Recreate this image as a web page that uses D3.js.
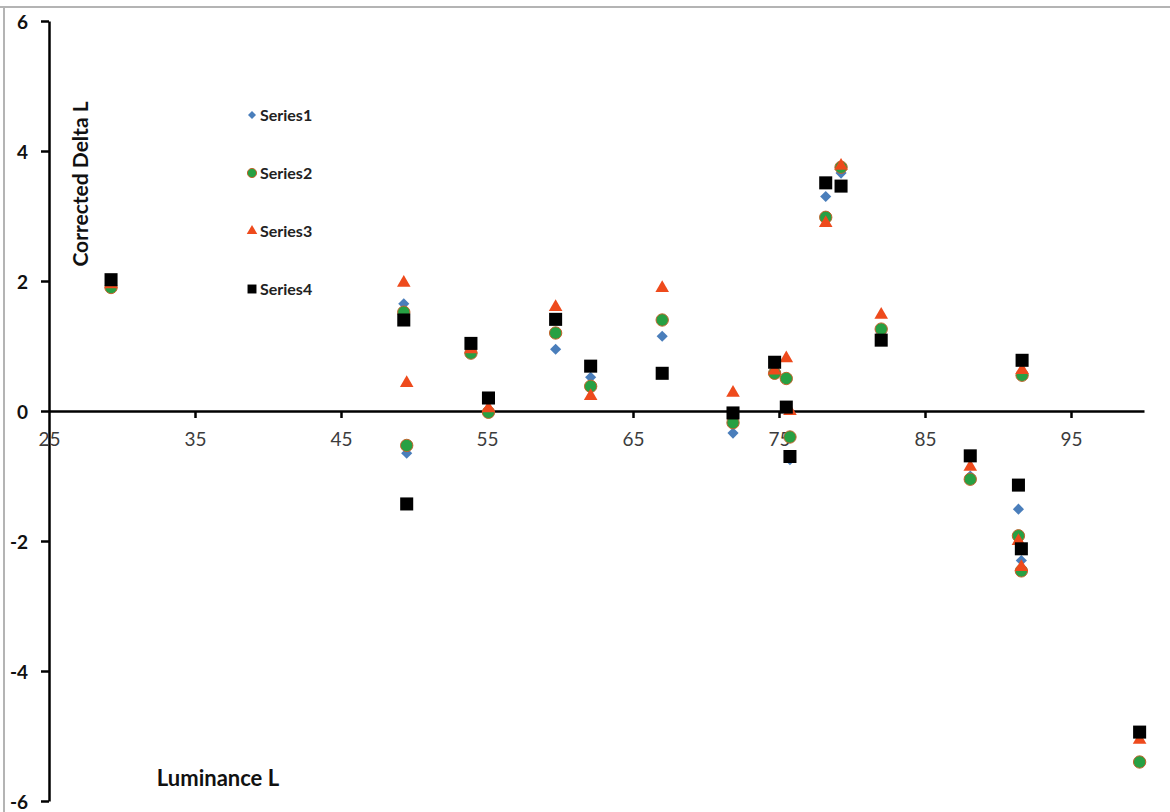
<!DOCTYPE html>
<html>
<head>
<meta charset="utf-8">
<script src="https://cdn.jsdelivr.net/npm/d3@7"></script>
<style>
  body { margin: 0; background: #fff; }
  svg { display: block; }
</style>
</head>
<body>
<div id="chart"></div>
<script>
// luminance positions, one row per sample
const luminance = [29.25, 49.3, 49.5, 53.9, 55.1, 59.7, 62.1, 67.0, 71.85, 74.7, 75.5, 75.75, 78.2, 79.25, 82.0, 88.1, 91.4, 91.6, 91.65, 99.7];
const series1 = [1.95, 1.65, -0.65, 0.92, 0.0, 0.95, 0.52, 1.15, -0.34, 0.72, 0.50, -0.75, 3.30, 3.66, 1.20, -1.00, -1.51, -2.30, 0.60, -5.00];
const series2 = [1.90, 1.52, -0.53, 0.89, -0.02, 1.20, 0.38, 1.40, -0.18, 0.58, 0.50, -0.40, 2.98, 3.75, 1.26, -1.05, -1.92, -2.46, 0.55, -5.40];
const series3 = [1.95, 1.97, 0.43, 0.95, 0.04, 1.60, 0.23, 1.89, 0.28, 0.62, 0.81, 0.00, 2.89, 3.77, 1.48, -0.86, -2.00, -2.40, 0.63, -5.06];
const series4 = [2.02, 1.40, -1.43, 1.04, 0.20, 1.41, 0.69, 0.58, -0.03, 0.75, 0.06, -0.70, 3.51, 3.46, 1.09, -0.69, -1.14, -2.12, 0.78, -4.94];
const seriesNames = ["Series1", "Series2", "Series3", "Series4"];
const xTicks = [25, 35, 45, 55, 65, 75, 85, 95];
const yTicks = [-6, -4, -2, 0, 2, 4, 6];

const W = 1170, H = 812;
const font = "Lato, 'Open Sans', sans-serif";
const svg = d3.select("#chart").append("svg")
  .attr("width", W)
  .attr("height", H);

// screenshot frame
svg.append("line").attr("x1", 0).attr("x2", W).attr("y1", 7).attr("y2", 7)
  .attr("stroke", "#b4b4b4").attr("stroke-width", 2);
svg.append("line").attr("x1", 4).attr("x2", 4).attr("y1", 7).attr("y2", H)
  .attr("stroke", "#b4b4b4").attr("stroke-width", 2);

const x = d3.scaleLinear().domain([25, 100]).range([49, 1144]);
const y = d3.scaleLinear().domain([-6, 6]).range([801, 21]);

// y axis
const yAxis = svg.append("g")
  .attr("transform", `translate(${x(25)},0)`)
  .call(d3.axisLeft(y).tickValues(yTicks).tickFormat(d => String(d))
    .tickSize(8).tickPadding(13).tickSizeOuter(0));
yAxis.select(".domain").attr("stroke", "#000").attr("stroke-width", 2.5);
yAxis.selectAll(".tick line").attr("stroke", "#000").attr("stroke-width", 2.5);
yAxis.selectAll(".tick text")
  .attr("dy", "0.38em")
  .style("font-family", font)
  .style("font-weight", "bold")
  .style("font-size", "19px")
  .attr("fill", "#111");

// x axis drawn through y = 0
const xAxis = svg.append("g")
  .attr("transform", `translate(0,${y(0)})`)
  .call(d3.axisBottom(x).tickValues(xTicks).tickSize(7).tickPadding(15).tickSizeOuter(0));
xAxis.select(".domain").attr("stroke", "#000").attr("stroke-width", 2.5);
xAxis.selectAll(".tick line").attr("stroke", "#000").attr("stroke-width", 2.5)
  .attr("display", d => d === 25 ? "none" : null);
xAxis.selectAll(".tick text")
  .style("font-family", font)
  .style("font-size", "19px")
  .attr("fill", "#3c3c3c");

// axis titles
svg.append("text")
  .attr("transform", `translate(88,184) rotate(-90)`)
  .attr("text-anchor", "middle")
  .style("font-family", font)
  .style("font-weight", "bold")
  .style("font-size", "21px")
  .attr("fill", "#111")
  .text("Corrected Delta L");

svg.append("text")
  .attr("x", 218).attr("y", 786)
  .attr("text-anchor", "middle")
  .style("font-family", font)
  .style("font-weight", "bold")
  .style("font-size", "22px")
  .attr("fill", "#111")
  .text("Luminance L");

// marker styles
const styles = [
  { type: d3.symbolSquare, size: 62, rotate: 45, fill: "#4a7ebb", stroke: "none", legendSize: 32 },
  { type: d3.symbolCircle, size: 120, rotate: 0, fill: "#27a043", stroke: "#c0642c", legendSize: 66 },
  { type: d3.symbolTriangle, size: 80, rotate: 0, fill: "#ee4a1c", stroke: "none", legendSize: 48 },
  { type: d3.symbolSquare, size: 170, rotate: 0, fill: "#000", stroke: "none", legendSize: 80 }
];

const allSeries = [series1, series2, series3, series4];

allSeries.forEach((vals, i) => {
  const st = styles[i];
  const pts = luminance.map((lx, j) => ({ lx, v: vals[j] }));
  svg.append("g").selectAll("path")
    .data(pts)
    .enter().append("path")
    .attr("d", d3.symbol().type(st.type).size(st.size))
    .attr("transform", d => `translate(${x(d.lx)},${y(d.v)}) rotate(${st.rotate})`)
    .attr("fill", st.fill)
    .attr("stroke", st.stroke)
    .attr("stroke-width", 1);
});

// legend
const legend = svg.append("g");
seriesNames.forEach((name, i) => {
  const st = styles[i];
  const ly = 115 + i * 58;
  legend.append("path")
    .attr("d", d3.symbol().type(st.type).size(st.legendSize))
    .attr("transform", `translate(252,${ly}) rotate(${st.rotate})`)
    .attr("fill", st.fill)
    .attr("stroke", st.stroke)
    .attr("stroke-width", 1);
  legend.append("text")
    .attr("x", 260).attr("y", ly)
    .attr("dy", "0.36em")
    .style("font-family", font)
    .style("font-weight", "bold")
    .style("font-size", "16px")
    .attr("fill", "#222")
    .text(name);
});
</script>
</body>
</html>
